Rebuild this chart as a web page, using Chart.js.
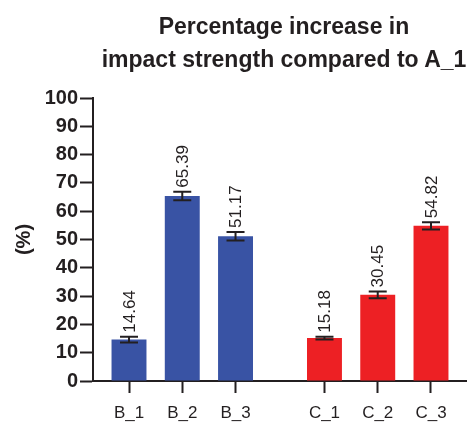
<!DOCTYPE html>
<html>
<head>
<meta charset="utf-8">
<script src="https://cdn.jsdelivr.net/npm/chart.js@4/dist/chart.umd.min.js"></script>
<style>
  html, body { margin: 0; padding: 0; background: #ffffff; overflow: hidden; }
  #wrap { position: relative; width: 467px; height: 423px; overflow: hidden; }
  #title {
    position: absolute; left: 34px; top: 10px; width: 500px;
    text-align: center; font-family: "Liberation Sans", Arial, Helvetica, sans-serif;
    font-weight: bold; font-size: 23px; line-height: 33px; color: #231f20;
    white-space: nowrap;
  }
  canvas { position: absolute; left: 0; top: 0; }
</style>
</head>
<body>
<div id="wrap">
  <canvas id="chart" width="467" height="423"></canvas>
  <div id="title">Percentage increase in<br>impact strength compared to A_1</div>
</div>
<script>
// Sample names, split into two groups
const categories = ['B_1', 'B_2', 'B_3', 'C_1', 'C_2', 'C_3'];
const groups = ['B', 'B', 'B', 'C', 'C', 'C'];
// Mean percentage increase and its error (±)
const values = [14.64, 65.39, 51.17, 15.18, 30.45, 54.82];
const errors = [1.0, 1.5, 1.5, 0.5, 1.2, 1.3];
// Y axis tick range
const yTicks = { min: 0, max: 100, step: 10 };

const FONT = '"Liberation Sans", Arial, Helvetica, sans-serif';
const INK = '#231f20';
const groupColors = { B: '#3953a4', C: '#ed2024' };
const GROUP_GAP = 0.67; // extra space between the two groups, in category units

// x position of each bar along a linear axis
const xPos = categories.map((c, i) => {
  let gi = 0;
  for (let k = 1; k <= i; k++) if (groups[k] !== groups[k - 1]) gi++;
  return i + 1 + gi * GROUP_GAP;
});

const errorBars = {
  id: 'errorBars',
  afterDatasetsDraw(chart) {
    const { ctx, scales: { y } } = chart;
    const meta = chart.getDatasetMeta(0);
    ctx.save();
    ctx.strokeStyle = INK;
    ctx.lineWidth = 2;
    ctx.fillStyle = INK;
    meta.data.forEach((bar, i) => {
      const x = bar.x;
      const yHi = y.getPixelForValue(values[i] + errors[i]);
      const yLo = y.getPixelForValue(values[i] - errors[i]);
      const half = 9;
      ctx.beginPath();
      ctx.moveTo(x, yHi); ctx.lineTo(x, yLo);
      ctx.moveTo(x - half, yHi); ctx.lineTo(x + half, yHi);
      ctx.moveTo(x - half, yLo); ctx.lineTo(x + half, yLo);
      ctx.stroke();
      // value label, rotated, above the error bar
      ctx.save();
      ctx.translate(x + 1, yHi - 4);
      ctx.rotate(-Math.PI / 2);
      ctx.font = '17px ' + FONT;
      ctx.textAlign = 'left';
      ctx.textBaseline = 'middle';
      ctx.fillText(values[i].toFixed(2), 0, 0);
      ctx.restore();
    });
    ctx.restore();
  }
};

new Chart(document.getElementById('chart'), {
  type: 'bar',
  data: {
    datasets: [{
      data: categories.map((c, i) => ({ x: xPos[i], y: values[i] })),
      backgroundColor: groups.map(g => groupColors[g]),
      borderWidth: 0,
      barPercentage: 0.82,
      categoryPercentage: 0.8
    }]
  },
  options: {
    responsive: false,
    animation: false,
    layout: { padding: { top: 98, left: 0, right: 0, bottom: 0 } },
    plugins: { legend: { display: false }, tooltip: { enabled: false }, title: { display: false } },
    scales: {
      x: {
        type: 'linear',
        offset: false,
        min: 0.324,
        max: 7.346,
        afterBuildTicks: (scale) => { scale.ticks = xPos.map(v => ({ value: v })); },
        afterFit: (scale) => { scale.height = 42; },
        ticks: {
          autoSkip: false,
          callback: (value, index) => categories[index],
          font: { family: FONT, size: 17 },
          color: INK,
          padding: 10,
          maxRotation: 0
        },
        grid: { offset: false, drawOnChartArea: false, tickLength: 12, tickWidth: 2, tickColor: INK },
        border: { color: INK, width: 2 }
      },
      y: {
        min: yTicks.min,
        max: yTicks.max,
        afterFit: (scale) => { scale.width = 93; },
        ticks: {
          stepSize: yTicks.step,
          font: { family: FONT, size: 20, weight: 'bold' },
          color: INK,
          padding: 2
        },
        grid: { drawOnChartArea: false, tickLength: 13, tickWidth: 2, tickColor: INK },
        border: { color: INK, width: 2 },
        title: {
          display: true,
          text: '(%)',
          font: { family: FONT, size: 20, weight: 'bold' },
          color: INK,
          padding: { top: 12, bottom: 0 }
        }
      }
    }
  },
  plugins: [errorBars]
});
</script>
</body>
</html>
